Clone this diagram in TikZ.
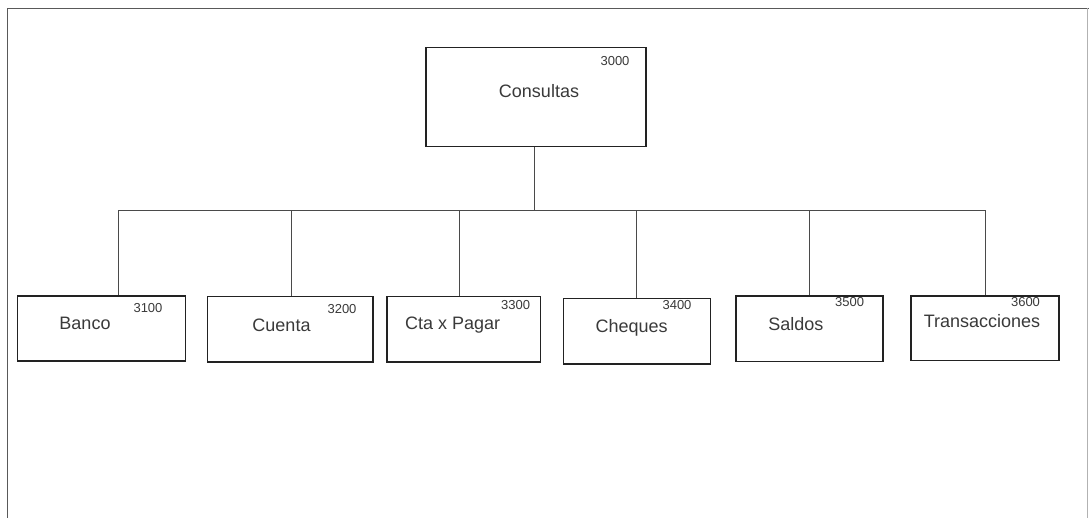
\documentclass[tikz,border=0pt]{standalone}
\usepackage{fontspec}
\setmainfont{Liberation Sans}
\definecolor{ink}{HTML}{222222}
\definecolor{txt}{HTML}{3A3A3A}
\definecolor{wire}{HTML}{4A4A4A}
\begin{document}
\begin{tikzpicture}[x=1pt,y=-1pt,
  box/.style={draw=ink,line width=1.2pt,inner sep=0pt,anchor=center},
  lbl/.style={text=txt,inner sep=0pt,anchor=base,font=\fontsize{18}{20}\selectfont},
  num/.style={text=txt,inner sep=0pt,anchor=base,font=\fontsize{13}{15}\selectfont},
  wirestyle/.style={draw=wire,line width=0.8pt},
  framestyle/.style={draw=black!65,line width=1.2pt}]
\useasboundingbox (0,0) rectangle (1089,518);
\fill[white] (0,0) rectangle (1089,518);
% frame
\draw[framestyle] (7.5,518) -- (7.5,8.3) -- (1089,8.3);
\draw[draw=black!30,line width=0.9pt] (1087.5,8.3) -- (1087.5,518);
% boxes
\node[box,minimum width=220pt,minimum height=99pt] (cons) at (536,97) {};
\node[box,minimum width=168pt,minimum height=65pt] (banco) at (101.3,328.5) {};
\node[box,minimum width=165.7pt,minimum height=65.3pt] (cuenta) at (290.2,329.3) {};
\node[box,minimum width=153.5pt,minimum height=65.3pt] (ctax) at (463.7,329.3) {};
\node[box,minimum width=147.4pt,minimum height=65.3pt] (cheques) at (637,331.3) {};
\node[box,minimum width=147pt,minimum height=65.3pt] (saldos) at (809.5,328.7) {};
\node[box,minimum width=148pt,minimum height=64.7pt] (trans) at (985,328.3) {};
% labels
\node[lbl] (consL) at (539,97.3) {Consultas};
\node[num] (consN) at (615,66) {3000};
\node[lbl] (bancoL) at (85,330) {Banco};
\node[num] (bancoN) at (148,313) {3100};
\node[lbl] (cuentaL) at (281.5,331.5) {Cuenta};
\node[num] (cuentaN) at (342,314) {3200};
\node[lbl] (ctaxL) at (452.7,329.2) {Cta x Pagar};
\node[num] (ctaxN) at (515.6,309.6) {3300};
\node[lbl] (chequesL) at (631.7,333) {Cheques};
\node[num] (chequesN) at (677,309.3) {3400};
\node[lbl] (saldosL) at (795.8,330.7) {Saldos};
\node[num] (saldosN) at (849.6,306.3) {3500};
\node[lbl] (transL) at (982,327.5) {Transacciones};
\node[num] (transN) at (1025.5,306.3) {3600};
% bus
\coordinate (j) at (534,210.5);
\coordinate (b1) at (118.5,210.5);
\coordinate (b2) at (291,210.5);
\coordinate (b3) at (459.5,210.5);
\coordinate (b4) at (636.7,210.5);
\coordinate (b5) at (809.5,210.5);
\coordinate (b6) at (985,210.5);
\draw[wirestyle] (j |- cons.south) -- (j);
\draw[wirestyle] (b1) -- (b6);
\draw[wirestyle] (b1) -- (b1 |- banco.north);
\draw[wirestyle] (b2) -- (b2 |- cuenta.north);
\draw[wirestyle] (b3) -- (b3 |- ctax.north);
\draw[wirestyle] (b4) -- (b4 |- cheques.north);
\draw[wirestyle] (b5) -- (b5 |- saldos.north);
\draw[wirestyle] (b6) -- (b6 |- trans.north);
\end{tikzpicture}
\end{document}
